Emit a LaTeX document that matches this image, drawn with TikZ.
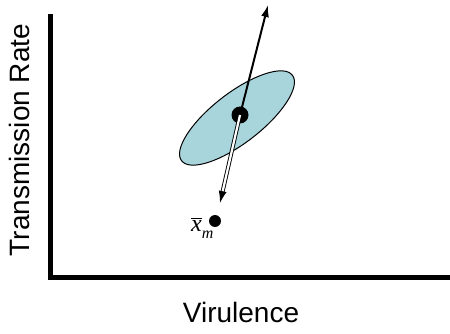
\documentclass[tikz,border=0pt]{standalone}
\usepackage{fontspec}
\setmainfont{Liberation Sans}
\newfontfamily\timesfont{Liberation Serif}
\usetikzlibrary{arrows.meta,shapes.geometric}
\definecolor{ellfill}{RGB}{168,213,220}
\begin{document}
\begin{tikzpicture}[x=1pt,y=-1pt,
  axis/.style={line width=5pt, line cap=rect},
  lbl/.style={font=\fontsize{28}{30}\selectfont, inner sep=0pt},
  arr/.style={line width=2pt, -{Latex[length=12pt,width=8pt]}}]
\useasboundingbox (0,0) rectangle (450,334);
\coordinate (top) at (50,17);
\coordinate (origin) at (50,277);
\coordinate (right) at (453,277);
\draw[axis] (top) -- (origin) -- (right);
\node[lbl, rotate=90] (ylab) at (19,140) {Transmission Rate};
\node[lbl] (xlab) at (241,312) {Virulence};
\node[draw=black, line width=1pt, fill=ellfill, ellipse, minimum width=140pt, minimum height=50pt, rotate=37.7, inner sep=0pt] (ell) at (237,118) {};
\node[circle, fill=black, inner sep=0pt, minimum size=17pt] (m) at (240,115) {};
\coordinate (up) at (268,5);
\coordinate (down) at (220,203);
\draw[arr] (m.center) -- (up);
\draw[line width=0.9pt, double distance=2.2pt, -{Latex[length=12pt,width=8pt]}] (m.center) -- (down);
\node[circle, fill=black, inner sep=0pt, minimum size=12pt] (xm) at (215,221) {};
\node[inner sep=0pt, anchor=base west, font=\timesfont\itshape\fontsize{24}{26}\selectfont] (xmlab) at (191,231) {$\overline{\hbox{x}}$\raisebox{-7pt}{\fontsize{16}{16}\selectfont m}};
\end{tikzpicture}
\end{document}
